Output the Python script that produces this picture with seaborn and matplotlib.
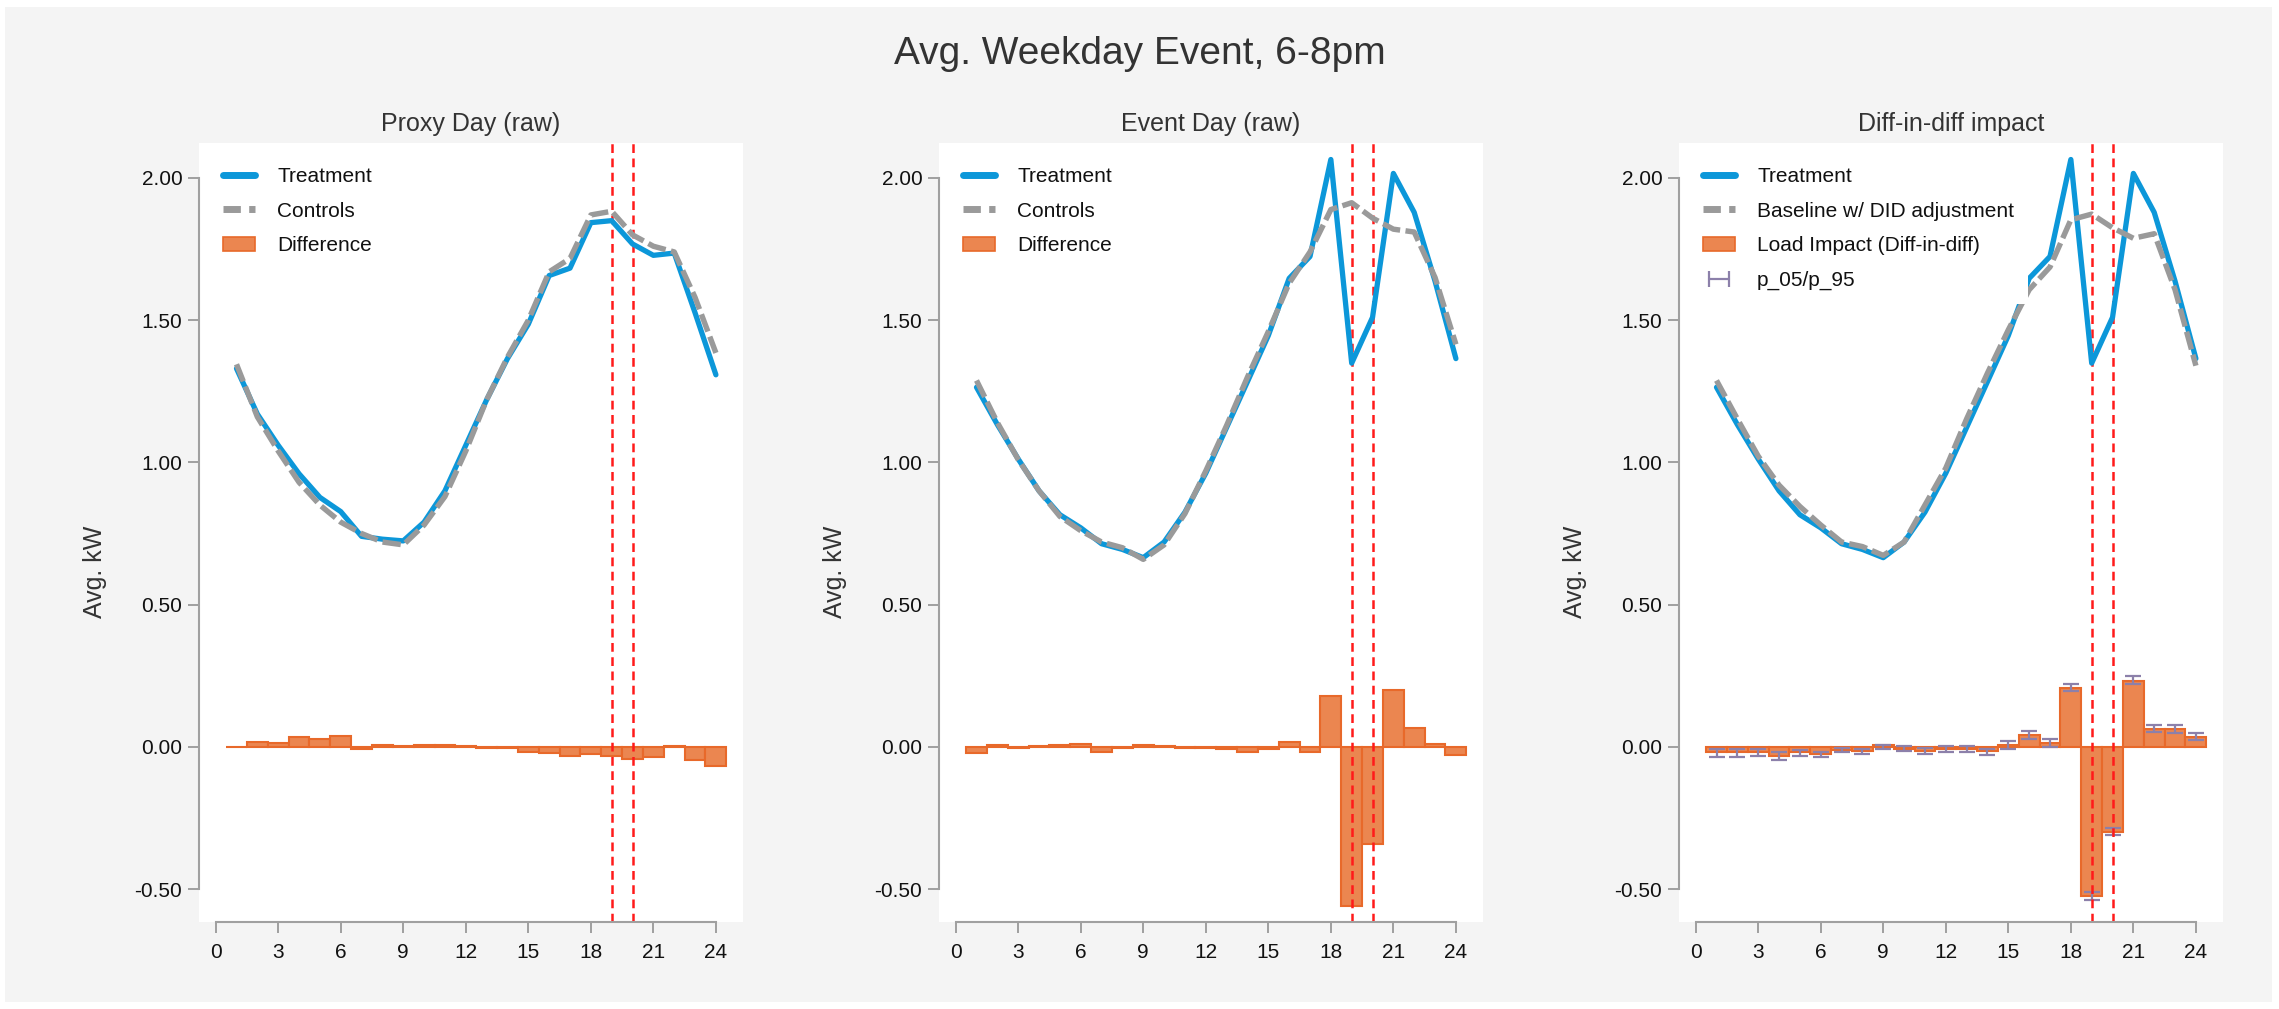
import numpy as np
import matplotlib
matplotlib.use("Agg")
import matplotlib.pyplot as plt
from matplotlib.lines import Line2D
from matplotlib.patches import Patch, Rectangle
from matplotlib.legend_handler import HandlerLine2D
from matplotlib.ticker import FormatStrFormatter
import seaborn as sns

# datos (kW promedio por hora)
hours = np.arange(1, 25)

proxy_treatment = [1.33, 1.17, 1.06, 0.96, 0.877, 0.827, 0.74, 0.73, 0.724, 0.79, 0.90, 1.06,
                   1.22, 1.365, 1.486, 1.657, 1.683, 1.843, 1.85, 1.768, 1.728, 1.736, 1.526, 1.308]
proxy_controls = [1.345, 1.16, 1.04, 0.93, 0.85, 0.79, 0.75, 0.72, 0.71, 0.78, 0.88, 1.04,
                  1.22, 1.37, 1.50, 1.67, 1.717, 1.87, 1.883, 1.80, 1.76, 1.74, 1.58, 1.385]
proxy_diff = [-0.002, 0.018, 0.014, 0.034, 0.028, 0.038, -0.006, 0.008, 0.004, 0.006, 0.008, 0.002,
              -0.004, -0.004, -0.020, -0.022, -0.032, -0.026, -0.032, -0.042, -0.036, 0.002, -0.048, -0.066]

event_treatment = [1.264, 1.133, 1.012, 0.90, 0.816, 0.77, 0.714, 0.694, 0.665, 0.72, 0.825, 0.962,
                   1.123, 1.284, 1.446, 1.647, 1.724, 2.065, 1.349, 1.51, 2.016, 1.879, 1.637, 1.365]
event_controls = [1.288, 1.14, 1.01, 0.90, 0.81, 0.76, 0.72, 0.70, 0.659, 0.71, 0.82, 0.97,
                  1.13, 1.30, 1.46, 1.63, 1.74, 1.889, 1.913, 1.859, 1.82, 1.81, 1.65, 1.415]
event_diff = [-0.022, 0.006, -0.004, 0.003, 0.005, 0.010, -0.018, -0.004, 0.008, 0.004, -0.004, -0.003,
              -0.008, -0.020, -0.008, 0.016, -0.018, 0.177, -0.558, -0.341, 0.198, 0.065, 0.010, -0.028]

did_baseline = [1.288, 1.153, 1.022, 0.92, 0.845, 0.78, 0.72, 0.704, 0.673, 0.72, 0.85, 0.98,
                1.153, 1.314, 1.466, 1.607, 1.687, 1.853, 1.873, 1.825, 1.788, 1.804, 1.607, 1.34]
did_impact = [-0.018, -0.018, -0.018, -0.032, -0.018, -0.026, -0.012, -0.015, 0.005, -0.006, -0.014, -0.007,
              -0.007, -0.014, 0.006, 0.041, 0.014, 0.208, -0.525, -0.299, 0.232, 0.064, 0.061, 0.035]
did_p05 = [-0.035, -0.035, -0.033, -0.047, -0.033, -0.037, -0.020, -0.024, -0.007, -0.013, -0.026, -0.017,
           -0.017, -0.029, -0.006, 0.029, 0.000, 0.196, -0.539, -0.310, 0.220, 0.053, 0.049, 0.023]
did_p95 = [-0.006, -0.006, -0.006, -0.018, -0.012, -0.018, -0.005, -0.009, 0.008, 0.002, -0.005, 0.002,
           0.002, -0.006, 0.020, 0.055, 0.026, 0.222, -0.510, -0.285, 0.250, 0.078, 0.075, 0.047]

event_window = [19, 20]
x_ticks = [0, 3, 6, 9, 12, 15, 18, 21, 24]
y_ticks = [-0.5, 0.0, 0.5, 1.0, 1.5, 2.0]

BLUE = "#0C97D9"
GRAY = "#9A9A9A"
ORANGE = "#EB8650"
ORANGE_EDGE = "#E8692A"
PURPLE = "#8C80AA"
RED = "#FF1A1A"

sns.set_theme(style="ticks")
plt.rcParams["font.family"] = ["Liberation Sans", "DejaVu Sans"]
plt.rcParams["axes.unicode_minus"] = False

W, H = 2279, 1009
fig = plt.figure(figsize=(W / 100, H / 100), dpi=100)
fig.patch.set_facecolor("white")
fig.add_artist(Rectangle((5 / W, 7 / H), 2267 / W, 995 / H, transform=fig.transFigure,
                         facecolor="#F4F4F4", edgecolor="none", zorder=-10))

fig.text(0.5, 1 - 54 / H, "Avg. Weekday Event, 6-8pm", ha="center", va="center",
         fontsize=28, color="#333333")

panels = [
    ("Proxy Day (raw)", proxy_treatment, proxy_controls, proxy_diff, None,
     ["Treatment", "Controls", "Difference"]),
    ("Event Day (raw)", event_treatment, event_controls, event_diff, None,
     ["Treatment", "Controls", "Difference"]),
    ("Diff-in-diff impact", event_treatment, did_baseline, did_impact, (did_p05, did_p95),
     ["Treatment", "Baseline w/ DID adjustment", "Load Impact (Diff-in-diff)", "p_05/p_95"]),
]
lefts = [199, 939, 1679]

for left, (title, treat, ctrl, diff, band, labels) in zip(lefts, panels):
    ax = fig.add_axes([left / W, 1 - 922 / H, 544 / W, 779 / H])
    ax.set_facecolor("white")

    # barras de diferencia
    sns.barplot(x=hours, y=diff, native_scale=True, width=1, color=ORANGE, saturation=1,
                edgecolor=ORANGE_EDGE, linewidth=1.5, errorbar=None, ax=ax, zorder=1)

    if band is not None:
        lo = np.array(diff) - np.array(band[0])
        hi = np.array(band[1]) - np.array(diff)
        ax.errorbar(hours, diff, yerr=[lo, hi], fmt="none", ecolor=PURPLE, elinewidth=1.6,
                    capsize=6, capthick=1.6, zorder=2)

    for xv in event_window:
        ax.axvline(xv, color=RED, lw=1.8, linestyle=(0, (3.5, 2.2)), zorder=2.5)

    sns.lineplot(x=hours, y=treat, color=BLUE, lw=3.8, ax=ax, zorder=3)
    sns.lineplot(x=hours, y=ctrl, color=GRAY, lw=3.9, ax=ax, zorder=4)
    ax.lines[-1].set_linestyle((0, (3.4, 1.0)))

    ax.set_xlim(-0.8, 25.3)
    ax.set_ylim(-0.616, 2.123)
    ax.set_xticks(x_ticks)
    ax.set_yticks(y_ticks)
    ax.yaxis.set_major_formatter(FormatStrFormatter("%.2f"))
    ax.tick_params(axis="both", colors="#999999", labelcolor="#111111", labelsize=15,
                   length=8, width=1.3)
    ax.tick_params(axis="x", pad=7)
    ax.tick_params(axis="y", pad=4)
    sns.despine(ax=ax, trim=True)
    for s in ("left", "bottom"):
        ax.spines[s].set_color("#A0A0A0")
        ax.spines[s].set_linewidth(1.5)
    ax.set_xlabel("")
    ax.set_ylabel("Avg. kW", fontsize=18, color="#333333")
    ax.yaxis.set_label_coords(-0.17, 0.45)
    ax.set_title(title, fontsize=18, color="#333333", pad=9)

    handles = [
        Line2D([], [], color=BLUE, lw=5),
        Line2D([], [], color=GRAY, lw=5, linestyle=(0, (2.5, 1.2))),
        Patch(facecolor=ORANGE, edgecolor=ORANGE_EDGE, linewidth=1.2),
    ]
    hmap = {}
    if band is not None:
        eh = Line2D([], [], color=PURPLE, lw=1.6, marker="|", markersize=12, markeredgewidth=1.6)
        handles.append(eh)
        hmap[eh] = HandlerLine2D(numpoints=2)
    leg = ax.legend(handles, labels, loc="upper left", fontsize=15, frameon=True,
                    facecolor="white", edgecolor="none", framealpha=1, handlelength=1.55,
                    handletextpad=1.05, labelspacing=0.75, borderpad=0.65, borderaxespad=0.5,
                    handler_map=hmap)
    leg.set_zorder(5)
    for t in leg.get_texts():
        t.set_color("#111111")

fig.savefig("out.png", dpi=100, facecolor=fig.get_facecolor())
